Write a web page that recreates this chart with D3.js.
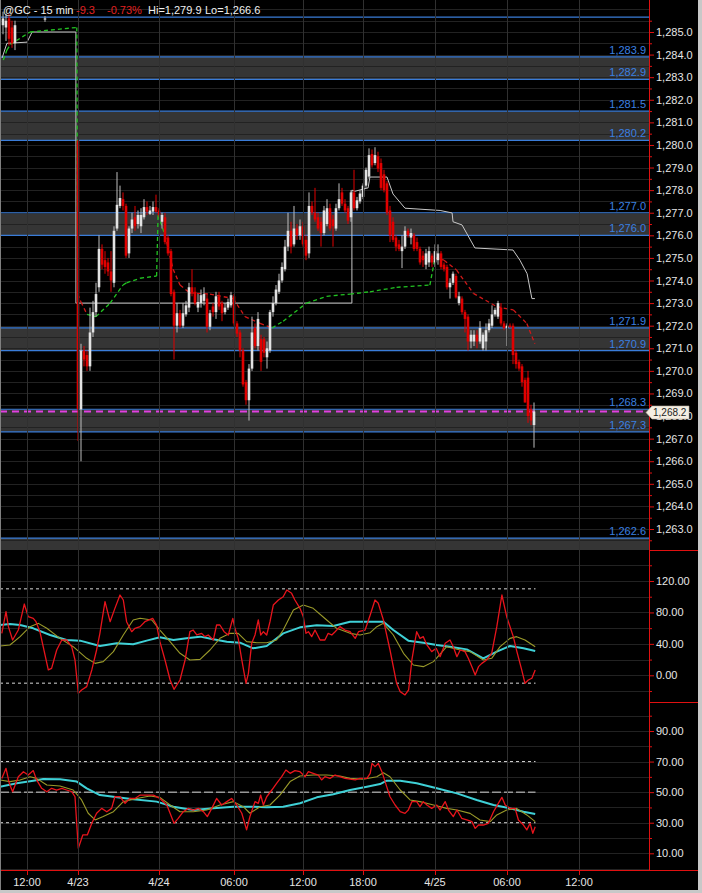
<!DOCTYPE html>
<html>
<head>
<meta charset="utf-8">
<script src="https://d3js.org/d3.v7.min.js"></script>
<style>
  html, body { margin: 0; padding: 0; background: #000; }
  svg { display: block; font-family: "Liberation Sans", Arial, sans-serif; }
</style>
</head>
<body>
<div id="chart"></div>
<script>
// ---- data ----
const titleParts = ["@GC - 15 min", "-9.3", "-0.73%", "Hi=1,279.9", "Lo=1,266.6"];

const timeLabels = ["12:00", "4/23", "4/24", "06:00", "12:00", "18:00", "4/25", "06:00", "12:00"];
const timeIdx = [9, 26, 53, 78, 101, 121, 145, 169, 193];

const levels = [1285.66, 1283.9, 1282.9, 1281.5, 1280.2, 1277.0, 1276.0, 1271.9, 1270.9, 1268.3, 1267.3, 1262.6];
const zones = [[1283.9, 1282.9], [1281.5, 1280.2], [1277.0, 1276.0], [1271.9, 1270.9], [1268.3, 1267.3], [1262.6, 1262.0]];

// 15 min bars [open, high, low, close], null = no bar
const ohlc = [
  null,
  [1285.3, 1285.9, 1284.9, 1285.6], [1285.2, 1285.8, 1284.6, 1285.5], [1285.6, 1285.8, 1284.4, 1284.7],
  [1285.2, 1285.5, 1284.3, 1284.5], [1284.5, 1285.5, 1284.2, 1285.3],
  null, null, null, null, null, null, null, null, null,
  [1285.55, 1285.7, 1285.45, 1285.6],
  null, null, null, null, null, null, null, null, null, null,
  [1280.2, 1280.2, 1266.9, 1268.3], [1268.3, 1271.2, 1266.0, 1270.9], [1270.9, 1271.1, 1270.2, 1270.5],
  [1270.7, 1270.9, 1270.0, 1270.2], [1270.2, 1272.8, 1270.0, 1271.7], [1271.7, 1273.1, 1271.5, 1272.6],
  [1272.6, 1273.9, 1272.4, 1273.4], [1273.7, 1276.0, 1273.5, 1275.4], [1275.4, 1275.6, 1274.5, 1274.7],
  [1274.9, 1275.3, 1274.3, 1274.6], [1274.8, 1275.0, 1274.2, 1274.4], [1274.4, 1275.3, 1273.5, 1274.0],
  [1273.9, 1276.4, 1273.7, 1276.2], [1276.3, 1278.8, 1276.2, 1277.35], [1277.3, 1278.2, 1277.2, 1277.65],
  [1277.6, 1277.9, 1277.1, 1277.3], [1277.3, 1277.4, 1275.0, 1275.1], [1275.2, 1276.4, 1275.0, 1276.3],
  [1276.3, 1277.0, 1276.1, 1276.7], [1276.8, 1277.3, 1276.2, 1276.4], [1276.5, 1277.1, 1276.3, 1276.9],
  [1276.4, 1277.2, 1276.1, 1276.9], [1276.8, 1277.6, 1276.7, 1277.25], [1277.25, 1277.5, 1276.9, 1277.05],
  [1276.95, 1277.3, 1276.9, 1277.1], [1277.05, 1277.5, 1276.9, 1277.25], [1277.25, 1277.8, 1277.0, 1277.05],
  [1277.1, 1277.2, 1276.8, 1276.9], [1276.6, 1277.0, 1276.3, 1276.9], [1276.8, 1277.0, 1275.6, 1275.7],
  [1275.9, 1276.0, 1275.1, 1275.2], [1275.3, 1275.4, 1273.3, 1273.4], [1273.5, 1273.6, 1270.5, 1272.0],
  [1272.0, 1273.0, 1271.7, 1272.55], [1272.55, 1272.7, 1271.9, 1272.0], [1272.0, 1273.0, 1271.9, 1272.55],
  [1272.5, 1273.1, 1272.4, 1272.9], [1272.8, 1273.9, 1272.6, 1273.7], [1273.7, 1274.5, 1273.3, 1273.45],
  [1273.5, 1273.7, 1272.9, 1273.0], [1272.8, 1273.4, 1272.6, 1273.05], [1273.0, 1273.6, 1272.8, 1273.35],
  [1273.1, 1273.7, 1272.9, 1273.4], [1273.2, 1273.4, 1271.7, 1271.95], [1271.95, 1272.7, 1271.8, 1272.55],
  [1272.85, 1273.0, 1272.4, 1272.6], [1272.6, 1273.5, 1272.3, 1273.3], [1273.3, 1273.5, 1272.7, 1272.85],
  [1273.0, 1273.1, 1272.2, 1272.55], [1272.6, 1273.0, 1272.5, 1272.8], [1272.8, 1273.2, 1272.7, 1273.05],
  [1272.9, 1273.5, 1272.8, 1273.35], [1273.3, 1273.4, 1272.0, 1272.1], [1272.1, 1272.2, 1271.5, 1271.65],
  [1271.7, 1271.8, 1270.6, 1270.9], [1270.9, 1271.0, 1269.3, 1269.4], [1269.5, 1269.6, 1268.5, 1268.7],
  [1268.7, 1270.3, 1267.8, 1270.1], [1270.1, 1272.4, 1270.0, 1271.7], [1271.9, 1272.1, 1271.0, 1271.1],
  [1271.1, 1272.6, 1270.9, 1272.3], [1271.4, 1271.6, 1270.0, 1270.4], [1271.4, 1271.5, 1270.6, 1270.8],
  [1270.6, 1271.3, 1270.1, 1271.0], [1270.9, 1272.7, 1270.8, 1272.6], [1272.6, 1273.3, 1272.4, 1273.0],
  [1273.0, 1273.8, 1272.9, 1273.6], [1273.5, 1274.3, 1273.4, 1274.0], [1274.0, 1274.8, 1273.9, 1274.6],
  [1274.5, 1275.8, 1274.4, 1275.5], [1275.5, 1277.0, 1275.3, 1276.2], [1276.2, 1276.6, 1275.2, 1275.5],
  [1275.6, 1277.3, 1275.5, 1276.3], [1276.3, 1276.5, 1275.8, 1276.0], [1276.0, 1276.7, 1275.8, 1276.4],
  [1276.4, 1276.6, 1275.5, 1275.6], [1275.8, 1276.0, 1274.9, 1275.1], [1275.2, 1277.9, 1275.0, 1277.3],
  [1277.3, 1277.5, 1276.9, 1277.0], [1277.0, 1278.1, 1276.6, 1276.7], [1276.8, 1277.0, 1276.2, 1276.3],
  [1276.6, 1276.8, 1275.5, 1276.1], [1276.1, 1277.3, 1276.0, 1277.1], [1276.5, 1277.6, 1276.4, 1277.2],
  [1277.2, 1277.4, 1276.2, 1276.3], [1276.7, 1276.9, 1275.5, 1276.4], [1276.3, 1277.4, 1276.2, 1277.2],
  [1277.2, 1278.3, 1277.1, 1277.6], [1277.9, 1278.1, 1277.3, 1277.4], [1277.4, 1277.6, 1277.0, 1277.1],
  [1277.2, 1277.3, 1276.5, 1276.65], [1276.8, 1278.0, 1276.6, 1277.9], [1277.9, 1278.9, 1277.1, 1277.2],
  [1277.2, 1277.7, 1277.1, 1277.55], [1277.5, 1278.0, 1277.4, 1277.85], [1277.7, 1278.3, 1277.6, 1278.2],
  [1278.2, 1279.0, 1278.1, 1278.9], [1278.6, 1279.85, 1278.5, 1279.55], [1279.6, 1279.8, 1279.0, 1279.1],
  [1279.2, 1279.9, 1279.1, 1279.55], [1279.5, 1279.7, 1278.8, 1278.95], [1279.2, 1279.4, 1278.0, 1278.1],
  [1278.7, 1278.9, 1277.9, 1278.0], [1278.3, 1278.4, 1276.9, 1277.0], [1277.1, 1277.3, 1275.7, 1276.0],
  [1276.6, 1276.8, 1275.7, 1275.8], [1275.9, 1276.0, 1275.3, 1275.5], [1275.6, 1275.8, 1275.3, 1275.4],
  [1275.3, 1276.0, 1274.55, 1275.5], [1275.5, 1276.4, 1275.4, 1276.2], [1276.2, 1276.3, 1275.9, 1276.0],
  [1275.9, 1276.3, 1275.6, 1276.1], [1276.0, 1276.1, 1275.3, 1275.4], [1275.7, 1275.9, 1275.3, 1275.4],
  [1275.4, 1275.5, 1274.7, 1274.8], [1275.1, 1275.3, 1274.6, 1274.9], [1274.7, 1275.4, 1274.5, 1275.2],
  [1274.8, 1275.5, 1274.6, 1275.3], [1275.1, 1275.2, 1274.6, 1274.8], [1274.8, 1275.6, 1274.6, 1275.3],
  [1274.9, 1275.6, 1274.7, 1275.2], [1275.2, 1275.3, 1274.5, 1274.6], [1274.7, 1274.8, 1274.4, 1274.5],
  [1274.6, 1274.7, 1273.6, 1273.7], [1273.7, 1274.1, 1273.2, 1273.9], [1273.9, 1274.4, 1273.8, 1274.3],
  [1274.2, 1274.3, 1273.2, 1273.25], [1273.0, 1273.5, 1272.9, 1273.3], [1273.2, 1273.3, 1272.5, 1272.6],
  [1272.6, 1272.7, 1271.7, 1272.3], [1272.4, 1272.5, 1270.9, 1271.3], [1271.3, 1271.8, 1271.0, 1271.6],
  [1271.3, 1271.8, 1271.1, 1271.6], [1271.6, 1271.8, 1271.0, 1271.3], [1271.3, 1272.2, 1271.2, 1271.9],
  [1271.0, 1271.7, 1270.9, 1271.6], [1271.3, 1272.1, 1270.9, 1271.8], [1271.8, 1272.3, 1271.7, 1272.1],
  [1272.0, 1272.9, 1271.9, 1272.5], [1272.5, 1272.8, 1272.4, 1272.7], [1272.4, 1273.1, 1272.3, 1273.0],
  [1272.8, 1273.0, 1272.0, 1272.1], [1272.1, 1272.2, 1271.8, 1271.9], [1271.9, 1272.1, 1271.1, 1272.0],
  [1272.0, 1272.1, 1271.9, 1271.95], [1272.0, 1272.1, 1270.3, 1270.7], [1270.8, 1270.9, 1270.1, 1270.3],
  [1270.4, 1270.5, 1270.0, 1270.1], [1270.2, 1270.3, 1269.3, 1269.5], [1269.6, 1269.7, 1268.6, 1268.6],
  [1269.7, 1270.0, 1267.7, 1268.0], [1268.3, 1268.5, 1267.6, 1267.8], [1267.6, 1268.6, 1266.6, 1268.2]
];

// trailing line (bar index, price)
const trail = [
  [0.7, 1283.85], [2.3, 1284.5], [9, 1284.55], [10.7, 1285.0], [25.3, 1285.0], [25.3, 1273.0],
  [117.3, 1273.0], [117.3, 1278.0], [118.3, 1277.95], [122.7, 1278.1], [123.3, 1278.58], [129, 1278.58],
  [131, 1277.83], [135, 1277.2], [146.7, 1277.1], [150.7, 1276.99], [151, 1276.6], [154, 1276.46],
  [158.3, 1275.44], [171, 1275.35], [173.3, 1274.9], [175.7, 1274.3], [177.3, 1273.2], [178.3, 1273.2]
];

// session vwap (bar index, price)
const vwap = [
  [1.1, 1283.76], [2.3, 1284.2], [3.5, 1284.45], [10, 1285.0], [25.6, 1285.2],
  [25.9, 1273.4], [27, 1273.05], [29, 1272.5], [32, 1272.4], [36.7, 1273.0], [41, 1273.8], [42.2, 1273.9],
  [46.7, 1274.1], [52.2, 1274.2],
  [52.7, 1276.9], [55, 1276.0], [57.7, 1274.5], [60, 1273.8], [63.3, 1273.45], [70, 1273.4], [77.7, 1273.2],
  [81.7, 1272.4], [86.7, 1272.1], [90.7, 1271.9], [94.4, 1272.2], [102.2, 1273.0], [108.9, 1273.3],
  [116.7, 1273.4], [123.3, 1273.5], [132.2, 1273.7], [143.3, 1273.8],
  [145, 1275.0], [148, 1274.9], [152.2, 1274.46], [157.8, 1273.43], [165.6, 1272.84], [171.1, 1272.7],
  [175.6, 1272.1], [178.3, 1271.2]
];

// oscillator panel
const oscLevels = [110, -10];
const oscFast = [
  [0.6, 53.4], [2, 81.0], [2.8, 61.9], [4.2, 44.9], [6.1, 57.6], [8.1, 90.7], [9.4, 74.6], [11.1, 72.5],
  [12, 68.2], [13.3, 55.5], [14.4, 36.4], [16.1, 6.8], [17.2, 8.9], [18.9, 32.2], [20.6, 44.9], [22.2, 44.9],
  [23.9, 36.4], [25, 19.5], [26.1, -22.9], [27.2, -18.7], [28.9, -14.4], [30.6, 6.8], [32.2, 32.2],
  [33.3, 53.4], [35, 93.7], [36.7, 68.2], [38.3, 85.2], [40, 102.2], [41.1, 95.8], [42.2, 68.2],
  [43.9, 55.5], [45, 59.8], [46.7, 61.9], [48.3, 68.2], [50.9, 72.5], [52.2, 64.0], [53.3, 42.8],
  [55, 19.5], [56.7, -6.0], [58, -17.8], [60, -6.0], [61.7, 19.5], [63.3, 55.5], [64.4, 57.6],
  [65.6, 51.3], [67.2, 53.4], [68.3, 49.2], [69.4, 51.3], [71.1, 44.9], [72.2, 64.0], [73.3, 64.0],
  [74.7, 55.5], [76.1, 51.3], [77.6, 72.5], [78.3, 59.8], [79.4, 47.0], [80.6, 19.5], [82, -10.2],
  [82.8, 2.5], [83.9, 40.7], [85, 51.3], [86.1, 70.4], [86.9, 51.3], [87.8, 55.5], [88.9, 51.3],
  [90, 68.2], [91.1, 89.4], [92.8, 95.8], [94.4, 100.0], [95.6, 108.5], [97.2, 104.3], [98.3, 95.8],
  [100, 85.2], [101.1, 74.6], [102, 53.4], [102.8, 55.5], [103.9, 49.2], [105, 57.6], [106.7, 44.9],
  [108.3, 44.9], [109.4, 53.4], [110.6, 51.3], [111.7, 55.5], [113.3, 61.9], [115, 57.6], [116.7, 55.5],
  [118.4, 47.0], [119.5, 55.5], [121.7, 57.6], [123.4, 76.7], [125, 95.8], [126.1, 91.6], [127.8, 70.4],
  [130, 32.2], [132.2, -10.2], [133.4, -20.8], [135, -25.0], [136.2, -18.7], [137.3, 19.5], [138.4, 44.9],
  [138.9, 55.5], [140, 47.0], [141.1, 49.2], [142.3, 38.6], [143.9, 30.1], [145.4, 34.3], [146.7, 23.7],
  [148.4, 40.7], [150, 44.9], [151.1, 36.4], [152.3, 23.7], [153.4, 32.2], [155, 30.1], [156.1, 21.6],
  [157.3, 11.0], [158.4, 0.4], [159.5, 11.0], [160.6, 15.2], [162.2, 19.5], [163.9, 28.0], [165.6, 61.9],
  [167.3, 102.2], [168.9, 74.6], [171.1, 49.2], [172.3, 30.1], [173.9, 6.8], [175, -10.2], [176.1, -6.0],
  [177.3, -3.8], [178.4, 6.8]
];
const oscMid = [
  [0, 37.3], [3.3, 38.6], [6.7, 49.2], [10, 61.9], [12.8, 66.1], [15.6, 59.8], [20, 47.0], [24.4, 36.4],
  [28.9, 21.6], [31.7, 15.2], [34.4, 17.4], [37.8, 30.1], [41.1, 51.3], [44.4, 70.4], [46.7, 72.5],
  [50.6, 70.4], [53.3, 57.6], [56.7, 42.8], [60, 28.0], [63.3, 19.5], [66.7, 20.3], [70, 32.2], [73.3, 47.0],
  [76.7, 53.4], [79.4, 53.4], [82.2, 42.8], [85.6, 41.5], [88.9, 41.5], [92.2, 44.9], [94.4, 57.6],
  [97.8, 83.1], [101.1, 89.4], [104.4, 85.2], [108.9, 70.4], [112.2, 59.8], [116.7, 53.4], [120, 51.3],
  [123.4, 54.2], [125.6, 61.9], [127.8, 66.1], [131.1, 51.3], [134.5, 28.0], [137.8, 13.1], [141.1, 11.0],
  [144.5, 17.4], [148.9, 36.4], [153.4, 32.2], [156.7, 30.1], [161.1, 19.5], [163.9, 21.6], [166.7, 36.4],
  [170, 47.0], [172.2, 49.2], [175, 44.9], [178.4, 36.4]
];
const oscSlow = [
  [0, 64.0], [3.3, 65.3], [6.7, 64.0], [11.1, 59.8], [16.7, 51.3], [22.2, 44.9], [26.7, 44.1], [33.3, 37.3],
  [38.9, 40.7], [44.4, 39.4], [48.9, 44.1], [53.3, 48.3], [57.8, 44.9], [62.2, 47.0], [66.7, 49.2],
  [71.1, 45.8], [75.6, 42.8], [80, 41.5], [84.4, 34.3], [88.9, 37.3], [94.4, 53.4], [100, 61.0],
  [105.6, 63.6], [111.1, 62.7], [116.7, 68.2], [122.3, 68.2], [127.8, 68.2], [131.1, 57.6], [136.1, 44.1],
  [141.1, 41.5], [145.6, 38.6], [150, 36.4], [155.6, 33.0], [161.1, 21.6], [165.6, 30.1], [170, 37.3],
  [174.5, 34.3], [178.4, 30.9]
];

// rsi panel
const rsiLevels = [70, 50, 30];
const rsiFast = [
  [0.6, 59.0], [2, 65.6], [3.1, 55.8], [4.2, 50.3], [6.1, 60.1], [7.8, 63.4], [9.4, 61.2], [11.1, 64.1],
  [12.2, 58.0], [13.9, 52.5], [15.6, 50.3], [17.2, 52.5], [18.9, 51.4], [20.6, 52.5], [22.2, 51.4],
  [23.9, 50.3], [25, 47.0], [26.1, 13.3], [27.6, 22.0], [29.1, 22.0], [30.6, 29.6], [32.2, 36.2],
  [33.9, 39.4], [35.6, 37.2], [37.2, 39.4], [38.3, 47.0], [40, 47.0], [41.7, 42.7], [43.3, 45.9],
  [45, 45.9], [46.7, 48.1], [48.9, 48.1], [51.1, 48.1], [53.3, 45.9], [55.6, 41.6], [56.7, 36.2],
  [58, 29.6], [59.4, 32.9], [61.1, 37.2], [62.8, 39.4], [64.4, 38.3], [66.1, 39.4], [67.8, 37.2],
  [69.1, 34.0], [70.6, 39.4], [72.2, 45.9], [73.9, 41.6], [75.6, 43.8], [77.2, 45.9], [78.9, 41.6],
  [80.6, 36.2], [82.2, 25.3], [83.3, 34.0], [85, 43.8], [86.1, 42.7], [86.9, 48.1], [87.8, 41.6],
  [88.9, 47.0], [90.6, 51.4], [92.2, 55.8], [93.9, 60.1], [95.3, 64.5], [96.7, 62.3], [98.3, 64.1],
  [100, 63.4], [101.7, 60.1], [102.8, 63.4], [104.4, 62.3], [106.1, 61.2], [107.2, 58.0], [108.3, 60.1],
  [110, 59.0], [111.7, 61.2], [113.3, 60.1], [115, 59.0], [116.7, 58.5], [118.4, 58.0], [120, 59.0],
  [122.3, 59.0], [123.4, 62.3], [124, 68.8], [125, 66.7], [126.1, 68.8], [127.3, 63.4], [128.9, 53.6],
  [130, 47.0], [131.7, 41.6], [133.4, 37.2], [135, 36.1], [136.1, 38.3], [137.3, 43.8], [138.9, 43.8],
  [140, 40.5], [141.1, 43.8], [142.3, 41.6], [143.9, 39.4], [145.6, 41.6], [146.7, 38.3], [148.4, 43.8],
  [149.5, 38.3], [151.1, 34.0], [152.3, 38.3], [153.9, 32.9], [155.6, 31.8], [157.3, 30.7], [158.4, 26.3],
  [159.5, 28.5], [161.1, 28.5], [162.8, 29.6], [164.5, 37.2], [166.1, 42.7], [167.3, 46.6], [168.4, 41.6],
  [170, 39.4], [171.7, 39.4], [172.8, 31.8], [174.5, 28.5], [175.6, 25.3], [176.7, 29.6], [177.6, 23.1],
  [178.4, 27.4]
];
const rsiMid = [
  [0, 58.0], [3.3, 56.9], [6.7, 58.0], [10, 60.1], [12.2, 59.0], [15.6, 54.7], [20, 54.0], [24.4, 51.4],
  [27.2, 44.9], [29.4, 36.2], [31.7, 31.8], [34.4, 34.0], [37.8, 37.2], [41.1, 43.8], [45.6, 45.9],
  [50, 47.5], [53.3, 46.6], [56.7, 41.6], [60, 37.2], [64.4, 37.2], [68.9, 38.3], [73.3, 41.6],
  [77.8, 43.8], [81.1, 40.5], [83.3, 36.2], [86.7, 40.5], [90, 41.6], [93.3, 48.1], [96.7, 56.9],
  [100, 60.6], [104.4, 61.2], [108.9, 61.2], [113.3, 60.6], [116.7, 59.0], [121.1, 58.4], [125.6, 60.1],
  [127.8, 62.7], [130, 60.1], [133.4, 51.4], [136.7, 44.9], [140, 43.8], [144.5, 41.6], [148.9, 39.4],
  [152.3, 38.3], [156.7, 36.1], [160, 31.8], [163.4, 30.7], [165.6, 35.1], [168.9, 38.3], [172.2, 39.4],
  [175.6, 35.1], [178.4, 30.7]
];
const rsiSlow = [
  [0, 53.6], [5.6, 55.8], [11.1, 57.5], [14.4, 58.6], [20, 58.4], [25.6, 56.9], [28.9, 52.5], [33.3, 48.1],
  [37.8, 47.0], [44.4, 45.3], [52.2, 43.8], [57.8, 40.5], [64.4, 38.3], [71.1, 39.4], [77.8, 40.5],
  [84.4, 40.5], [88.9, 40.1], [94.4, 40.5], [100, 42.7], [105.6, 46.6], [111.1, 48.6], [116.7, 51.4],
  [122.3, 53.6], [126.7, 55.3], [128.9, 57.5], [133.4, 57.5], [138.9, 55.8], [145.6, 52.5], [152.3, 49.2],
  [158.9, 44.9], [164.5, 41.6], [170, 39.4], [174.5, 37.2], [178.4, 35.7]
];

// ---- layout ----
const W = 702, H = 893;
const axisX = 649;
const pricePanel = [0, 550], oscPanel = [552, 702], rsiPanel = [704, 870];
const upColor = "#e2e2e2", downColor = "#e00000";

const x = d3.scaleLinear().domain([0, 216]).range([0, 648]);
const yP = d3.scaleLinear().domain([1285, 1263]).range([32, 529]);
const yO = d3.scaleLinear().domain([0, 120]).range([675.3, 581]);
const yR = d3.scaleLinear().domain([10, 90]).range([853.3, 731]);
const fmtP = d3.format(",.1f");
const lastIdx = ohlc.length - 1;
const lastClose = ohlc[lastIdx][3];

const svg = d3.select("#chart").append("svg")
  .attr("width", W).attr("height", H);

svg.append("rect").attr("width", W).attr("height", H).attr("fill", "#000");

const defs = svg.append("defs");
[["clipP", pricePanel], ["clipO", oscPanel], ["clipR", rsiPanel]].forEach(([id, p]) => {
  defs.append("clipPath").attr("id", id).append("rect")
    .attr("x", 0).attr("y", p[0]).attr("width", axisX).attr("height", p[1] - p[0]);
});

const gP = svg.append("g").attr("clip-path", "url(#clipP)");
const gO = svg.append("g").attr("clip-path", "url(#clipO)");
const gR = svg.append("g").attr("clip-path", "url(#clipR)");

// zones under the grid
gP.selectAll(".zone").data(zones).join("rect")
  .attr("class", "zone")
  .attr("x", 0).attr("width", axisX)
  .attr("y", d => yP(d[0]))
  .attr("height", d => yP(d[1]) - yP(d[0]))
  .attr("fill", "#353535");

// horizontal grids
function hGrid(g, scale, values) {
  g.selectAll(".hgrid").data(values).join("line")
    .attr("class", "hgrid")
    .attr("x1", 0).attr("x2", axisX)
    .attr("y1", d => Math.round(scale(d)) + 0.5).attr("y2", d => Math.round(scale(d)) + 0.5)
    .attr("stroke", "#222").attr("stroke-width", 1);
}
hGrid(gP, yP, d3.range(1262, 1286.01, 0.5));
hGrid(gO, yO, d3.range(-40, 161, 20));
hGrid(gR, yR, d3.range(0, 101, 10));

// vertical time grid through all panels
svg.append("g").selectAll("line").data(timeIdx).join("line")
  .attr("x1", d => x(d) + 0.5).attr("x2", d => x(d) + 0.5)
  .attr("y1", 0).attr("y2", rsiPanel[1])
  .attr("stroke", "#303030");

// level lines and labels
gP.selectAll(".level").data(levels).join("line")
  .attr("class", "level")
  .attr("x1", 0).attr("x2", axisX)
  .attr("y1", d => yP(d)).attr("y2", d => yP(d))
  .attr("stroke", "#3a7cd8").attr("stroke-width", 1.2);

gP.selectAll(".levelLabel").data(levels.filter(d => yP(d) > 30)).join("text")
  .attr("class", "levelLabel")
  .attr("x", axisX - 3).attr("y", d => yP(d) - 3)
  .attr("text-anchor", "end")
  .attr("fill", "#3b80e2")
  .style("font-size", "11px")
  .text(d => fmtP(d));

// last price line
gP.append("line")
  .attr("x1", 0).attr("x2", axisX)
  .attr("y1", yP(lastClose)).attr("y2", yP(lastClose))
  .attr("stroke", "#e040e0").attr("stroke-width", 2)
  .attr("stroke-dasharray", "7,5");

// trailing line
const lineP = d3.line().x(d => x(d[0])).y(d => yP(d[1]));
gP.append("path")
  .attr("d", lineP(trail))
  .attr("fill", "none")
  .attr("stroke", "#c8c8c8").attr("stroke-width", 1);

// vwap, green while price is above it, red while below
function closeAt(i) {
  const b = ohlc[Math.round(i)];
  return b ? b[3] : null;
}
const vwapSegs = d3.pairs(vwap).map(([a, b]) => {
  const mid = (a[0] + b[0]) / 2;
  const c = closeAt(mid);
  const jump = Math.abs(b[0] - a[0]) < 1;
  const above = jump || c === null || c >= (a[1] + b[1]) / 2;
  return { pts: [a, b], above };
});
gP.selectAll(".vwap").data(vwapSegs).join("path")
  .attr("class", "vwap")
  .attr("d", d => lineP(d.pts))
  .attr("fill", "none")
  .attr("stroke", d => d.above ? "#22c322" : "#d01818")
  .attr("stroke-width", 1.3)
  .attr("stroke-dasharray", "4,3");

// candles
const bars = ohlc.map((d, i) => d && { i, o: d[0], h: d[1], l: d[2], c: d[3] }).filter(Boolean);
gP.selectAll(".wick").data(bars).join("rect")
  .attr("class", "wick")
  .attr("x", d => x(d.i) - 0.5).attr("width", 1)
  .attr("y", d => yP(d.h))
  .attr("height", d => Math.max(1, yP(d.l) - yP(d.h)))
  .attr("fill", d => d.c >= d.o ? "#bdbdbd" : downColor);
gP.selectAll(".body").data(bars).join("rect")
  .attr("class", "body")
  .attr("x", d => x(d.i) - 1.3).attr("width", 2.6)
  .attr("y", d => yP(Math.max(d.o, d.c)))
  .attr("height", d => Math.max(1, Math.abs(yP(d.o) - yP(d.c))))
  .attr("fill", d => d.c >= d.o ? upColor : downColor);

// indicator panels
function dashedLevels(g, scale, values) {
  g.selectAll(".lvl").data(values).join("line")
    .attr("class", "lvl")
    .attr("x1", 0).attr("x2", x(lastIdx) + 1.5)
    .attr("y1", d => scale(d)).attr("y2", d => scale(d))
    .attr("stroke", "#d8d8d8").attr("stroke-width", 1)
    .attr("stroke-dasharray", d => d === 50 ? "9,3" : "3,3");
}
function series(g, scale, data, color, width) {
  g.append("path")
    .attr("d", d3.line().x(d => x(d[0])).y(d => scale(d[1]))(data))
    .attr("fill", "none")
    .attr("stroke", color).attr("stroke-width", width)
    .attr("stroke-linejoin", "round");
}
dashedLevels(gO, yO, oscLevels);
series(gO, yO, oscSlow, "#3fd0d6", 2);
series(gO, yO, oscMid, "#9a9a2a", 1.1);
series(gO, yO, oscFast, "#e8141c", 1.3);

dashedLevels(gR, yR, rsiLevels);
series(gR, yR, rsiSlow, "#3fd0d6", 2);
series(gR, yR, rsiMid, "#9a9a2a", 1.1);
series(gR, yR, rsiFast, "#e8141c", 1.3);

// right axes
function styleAxis(g) {
  g.select(".domain").remove();
  g.selectAll(".tick line").attr("stroke", "#e01010");
  g.selectAll(".tick text").attr("fill", "#e6e6e6").style("font-size", "11px")
    .style("font-family", "'Liberation Sans', Arial, sans-serif");
}
function rightAxis(scale, major, minor, fmt) {
  svg.append("g").attr("transform", `translate(${axisX},0)`)
    .call(d3.axisRight(scale).tickValues(minor).tickSize(3).tickFormat(""))
    .call(styleAxis);
  svg.append("g").attr("transform", `translate(${axisX},0)`)
    .call(d3.axisRight(scale).tickValues(major).tickSize(5).tickPadding(2).tickFormat(fmt))
    .call(styleAxis);
}
rightAxis(yP, d3.range(1263, 1285.1, 1), d3.range(1262.5, 1285.6, 1), fmtP);
rightAxis(yO, [0, 40, 80, 120], [-20, 20, 60, 100, 140], d3.format(".2f"));
rightAxis(yR, [10, 30, 50, 70, 90], [20, 40, 60, 80, 100], d3.format(".2f"));

// axis frame lines
svg.append("line").attr("x1", axisX + 0.5).attr("x2", axisX + 0.5).attr("y1", 0).attr("y2", rsiPanel[1])
  .attr("stroke", "#e01010");
[pricePanel[1], oscPanel[1]].forEach(yy => {
  svg.append("line").attr("x1", axisX).attr("x2", 698).attr("y1", yy + 0.5).attr("y2", yy + 0.5)
    .attr("stroke", "#e01010");
});
svg.append("line").attr("x1", 0).attr("x2", 698)
  .attr("y1", rsiPanel[1] + 0.5).attr("y2", rsiPanel[1] + 0.5)
  .attr("stroke", "#e01010");

// last price tag, sits over the nearby tick label as in the platform
const tagY = yP(lastClose) + 1;
const tag = svg.append("g").attr("transform", `translate(${axisX},${tagY})`);
tag.append("path")
  .attr("d", "M-3,0 L3,-6.5 L40,-6.5 L40,6.5 L3,6.5 Z")
  .attr("fill", "#f4eee2").attr("stroke", "#b8b0a0").attr("stroke-width", 0.6);
tag.append("text")
  .attr("x", 4).attr("dy", "0.35em")
  .attr("fill", "#222")
  .style("font-size", "10px")
  .text(fmtP(lastClose));

// time axis
const tAxis = svg.append("g");
tAxis.selectAll("line").data(timeIdx).join("line")
  .attr("x1", d => x(d) + 0.5).attr("x2", d => x(d) + 0.5)
  .attr("y1", rsiPanel[1]).attr("y2", rsiPanel[1] + 5)
  .attr("stroke", "#e01010");
tAxis.selectAll("text").data(timeIdx).join("text")
  .attr("x", d => x(d)).attr("y", 882).attr("dy", "0.35em")
  .attr("text-anchor", "middle")
  .attr("fill", "#e6e6e6")
  .style("font-size", "11px")
  .text((d, i) => timeLabels[i]);

// title
const titleX = [3, 76, 107, 148, 205];
const titleColor = ["#f0f0f0", "#e02020", "#e02020", "#f0f0f0", "#f0f0f0"];
svg.append("g").selectAll("text").data(titleParts).join("text")
  .attr("x", (d, i) => titleX[i]).attr("y", 14)
  .attr("fill", (d, i) => titleColor[i])
  .style("font-size", "11px")
  .text(d => d);

// window borders
svg.append("rect").attr("x", 698).attr("y", 0).attr("width", 4).attr("height", H).attr("fill", "#c8c8c8");
svg.append("rect").attr("x", 0).attr("y", 890).attr("width", W).attr("height", 3).attr("fill", "#c8c8c8");
svg.append("line").attr("x1", 0.5).attr("x2", 0.5).attr("y1", 0).attr("y2", 890).attr("stroke", "#808080");
</script>
</body>
</html>
